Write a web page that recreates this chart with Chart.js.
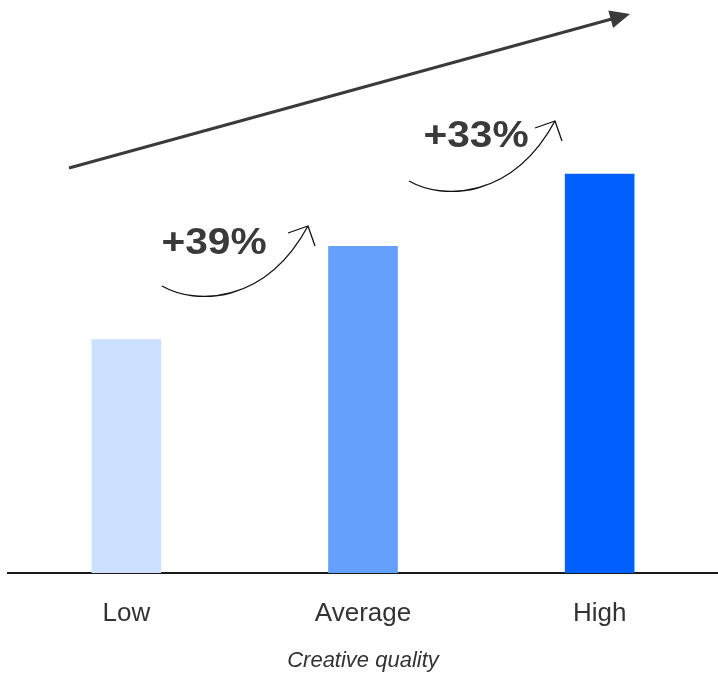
<!DOCTYPE html>
<html>
<head>
<meta charset="utf-8">
<title>Creative quality</title>
<script src="https://cdn.jsdelivr.net/npm/chart.js@4/dist/chart.umd.min.js"></script>
<style>
  html, body { margin: 0; padding: 0; background: #ffffff; }
  #chart { display: block; }
</style>
</head>
<body>
<canvas id="chart" width="718" height="674"></canvas>
<script>
// Categories and bar values (Low indexed to 100)
const categories = ['Low', 'Average', 'High'];
const values = [100, 140, 171];
const barColors = ['#cce0ff', '#66a0ff', '#0060ff'];
// Growth callouts between neighbouring bars
const growthLabels = ['+39%', '+33%'];
const axisTitle = 'Creative quality';

const INK = '#3a3a3a';

// Draws the trend arrow and the curved growth callouts on top of the bars
const calloutPlugin = {
  id: 'callouts',
  afterDatasetsDraw(chart) {
    const ctx = chart.ctx;
    const area = chart.chartArea;
    const x0 = area.left, y0 = area.top;

    ctx.save();

    // overall upward trend arrow
    const ax1 = x0 + 61, ay1 = y0 + 155;
    const ax2 = x0 + 622, ay2 = y0 + 1;
    const ang = Math.atan2(ay2 - ay1, ax2 - ax1);
    const headLen = 20, headHalf = 9;
    ctx.strokeStyle = INK;
    ctx.fillStyle = INK;
    ctx.lineWidth = 3;
    ctx.lineCap = 'butt';
    ctx.beginPath();
    ctx.moveTo(ax1, ay1);
    ctx.lineTo(ax2 - Math.cos(ang) * (headLen - 2), ay2 - Math.sin(ang) * (headLen - 2));
    ctx.stroke();
    ctx.beginPath();
    ctx.moveTo(ax2, ay2);
    ctx.lineTo(ax2 - Math.cos(ang) * headLen - Math.sin(ang) * headHalf,
               ay2 - Math.sin(ang) * headLen + Math.cos(ang) * headHalf);
    ctx.lineTo(ax2 - Math.cos(ang) * headLen + Math.sin(ang) * headHalf,
               ay2 - Math.sin(ang) * headLen - Math.cos(ang) * headHalf);
    ctx.closePath();
    ctx.fill();

    // curved arrows with growth labels
    const callouts = [
      { dx: 154, dy: 273, tx: 206, ty: 231 },
      { dx: 401, dy: 168, tx: 468, ty: 124 }
    ];
    callouts.forEach((c, i) => {
      const sx = x0 + c.dx, sy = y0 + c.dy;
      const ex = sx + 146, ey = sy - 60;
      ctx.strokeStyle = '#111111';
      ctx.lineWidth = 1.3;
      ctx.beginPath();
      ctx.moveTo(sx, sy);
      ctx.bezierCurveTo(sx + 33, sy + 19, sx + 103, sy + 19, ex, ey);
      ctx.stroke();
      ctx.beginPath();
      ctx.moveTo(ex - 20, ey + 7);
      ctx.lineTo(ex, ey);
      ctx.lineTo(ex + 7, ey + 20);
      ctx.stroke();

      ctx.fillStyle = INK;
      ctx.font = "bold 37px 'Liberation Sans', Arial, sans-serif";
      ctx.textAlign = 'center';
      ctx.textBaseline = 'middle';
      ctx.save();
      ctx.translate(x0 + c.tx, y0 + c.ty);
      ctx.scale(1.1, 1);
      ctx.fillText(growthLabels[i], 0, 0);
      ctx.restore();
    });

    ctx.restore();
  }
};

new Chart(document.getElementById('chart'), {
  type: 'bar',
  data: {
    labels: categories,
    datasets: [{
      data: values,
      backgroundColor: barColors,
      borderWidth: 0,
      barThickness: 69
    }]
  },
  options: {
    responsive: false,
    animation: false,
    devicePixelRatio: 1,
    layout: { padding: { left: 8, top: 13, right: -4, bottom: 0 } },
    plugins: {
      legend: { display: false },
      tooltip: { enabled: false }
    },
    scales: {
      y: { display: false, min: 0, max: 240 },
      x: {
        grid: { display: false, drawTicks: false },
        border: { display: true, color: '#1a1a1a', width: 2 },
        afterFit(scale) { scale.height = 101; },
        ticks: {
          color: '#333333',
          padding: 25,
          font: { family: "'Liberation Sans', Arial, sans-serif", size: 26 }
        },
        title: {
          display: true,
          text: axisTitle,
          color: '#333333',
          padding: { top: 0, bottom: 0 },
          font: { family: "'Liberation Sans', Arial, sans-serif", size: 22, style: 'italic' }
        }
      }
    }
  },
  plugins: [calloutPlugin]
});
</script>
</body>
</html>
